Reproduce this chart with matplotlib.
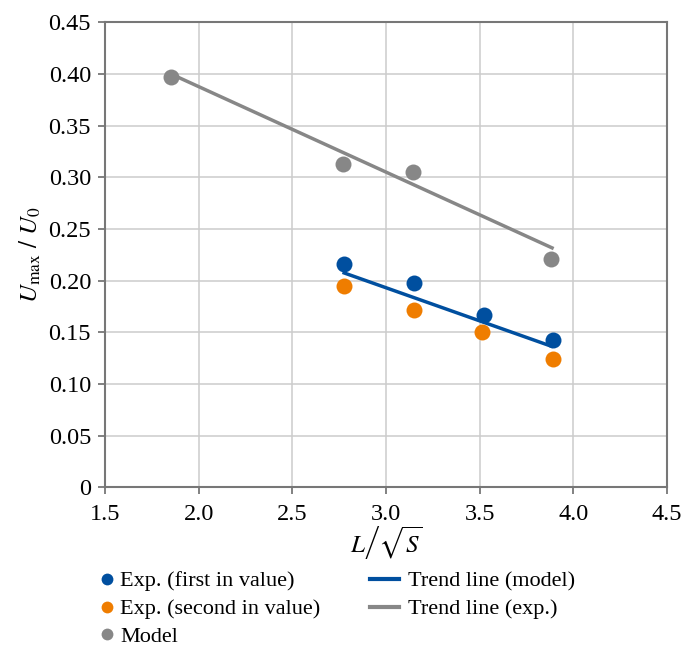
import matplotlib
matplotlib.use("Agg")
import matplotlib.pyplot as plt
from matplotlib.lines import Line2D

plt.rcParams['font.family'] = ['Liberation Serif', 'DejaVu Serif']
plt.rcParams['mathtext.fontset'] = 'stix'

# measured points
x_model = [1.852, 2.772, 3.146, 3.882]
y_model = [0.397, 0.313, 0.305, 0.221]

x_first = [2.775, 3.150, 3.524, 3.889]
y_first = [0.216, 0.198, 0.167, 0.143]

x_second = [2.775, 3.150, 3.512, 3.889]
y_second = [0.195, 0.172, 0.150, 0.124]

# trend line end points
trend_model_x = [2.768, 3.891]
trend_model_y = [0.208, 0.136]
trend_exp_x = [1.852, 3.895]
trend_exp_y = [0.400, 0.231]

xticks = [1.5, 2.0, 2.5, 3.0, 3.5, 4.0, 4.5]
yticks = [0, 0.05, 0.10, 0.15, 0.20, 0.25, 0.30, 0.35, 0.40, 0.45]
ytick_labels = ['0', '0.05', '0.10', '0.15', '0.20', '0.25', '0.30', '0.35', '0.40', '0.45']

blue = '#004f9f'
orange = '#ef7d00'
grey = '#878787'

fig = plt.figure(figsize=(6.99, 6.48), dpi=100)
ax = fig.add_axes([0.1502, 0.248, 0.804, 0.7176])

ax.plot(trend_exp_x, trend_exp_y, color=grey, lw=2.5, solid_capstyle='butt', zorder=2)
ax.plot(trend_model_x, trend_model_y, color=blue, lw=2.5, solid_capstyle='butt', zorder=2)
ax.plot(x_model, y_model, 'o', color=grey, ms=11.5, mec='none', zorder=3)
ax.plot(x_first, y_first, 'o', color=blue, ms=11.5, mec='none', zorder=3)
ax.plot(x_second, y_second, 'o', color=orange, ms=11.5, mec='none', zorder=3)

ax.set_xlim(1.5, 4.5)
ax.set_ylim(0, 0.45)
ax.set_xticks(xticks)
ax.set_xticklabels([f'{t:.1f}' for t in xticks])
ax.set_yticks(yticks)
ax.set_yticklabels(ytick_labels)
ax.grid(True, color='#cccccc', lw=1.1)
ax.set_axisbelow(True)
for s in ax.spines.values():
    s.set_color('#777777')
    s.set_linewidth(1.5)
ax.tick_params(colors='#777777', labelcolor='black', labelsize=17.5, length=5, width=1.3)
ax.tick_params(axis='x', pad=7)
ax.tick_params(axis='y', pad=5)

ax.set_ylabel(r'$U_{\mathrm{max}}\ /\ U_0$', fontsize=18, labelpad=4)
ax.set_xlabel(r'$L\left/\sqrt{S}\right.$', fontsize=18, labelpad=0)

h_pts = [Line2D([], [], ls='none', marker='o', ms=8.5, mec='none', color=c) for c in (blue, orange, grey)]
fig.legend(h_pts, ['Exp. (first in value)', 'Exp. (second in value)', 'Model'],
           loc='upper left', bbox_to_anchor=(0.143, 0.119), frameon=False,
           fontsize=16, handlelength=0.6, handletextpad=0.3, labelspacing=0.33,
           borderpad=0, borderaxespad=0)

h_lines = [Line2D([], [], color=c, lw=3) for c in (blue, grey)]
fig.legend(h_lines, ['Trend line (model)', 'Trend line (exp.)'],
           loc='upper left', bbox_to_anchor=(0.529, 0.119), frameon=False,
           fontsize=16, handlelength=1.3, handletextpad=0.4, labelspacing=0.33,
           borderpad=0, borderaxespad=0)

fig.savefig('out.png', dpi=100)
